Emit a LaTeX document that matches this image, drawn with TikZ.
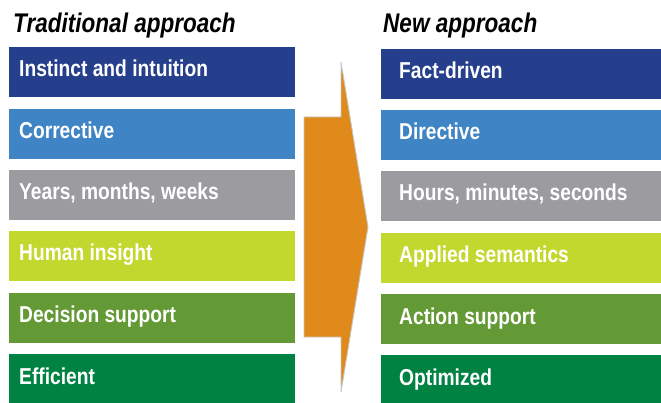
\documentclass[tikz,border=0pt]{standalone}
\usepackage{fontspec}
\setmainfont{Liberation Sans}[FakeStretch=0.835]
\definecolor{cA}{HTML}{253F8D}
\definecolor{cB}{HTML}{3F84C4}
\definecolor{cC}{HTML}{9C9CA0}
\definecolor{cD}{HTML}{C3D82E}
\definecolor{cE}{HTML}{639A35}
\definecolor{cF}{HTML}{008342}
\definecolor{cOr}{HTML}{DF8A1B}
\begin{document}
\begin{tikzpicture}[x=1pt,y=-1pt,
  box/.style={anchor=north west,minimum width=286pt,minimum height=50pt,inner sep=0pt,draw=none},
  rbox/.style={anchor=north west,minimum width=281pt,minimum height=50pt,inner sep=0pt,draw=none},
  lbl/.style={anchor=base west,inner sep=0pt,text=white,font=\fontsize{23}{25}\selectfont\bfseries},
  ttl/.style={anchor=base west,inner sep=0pt,text=black,font=\fontsize{27}{29}\selectfont\bfseries\itshape},
  bigarrow/.style={fill=cOr,draw=gray!45,line width=0.9pt,line join=miter}]
\useasboundingbox (0,0) rectangle (661,403);
\node[ttl] (t1) at (13,33) {Traditional approach};
\node[ttl] (t2) at (383,33) {New approach};
% left column
\node[box,fill=cA] (l1) at (9,47) {};
\node[box,fill=cB] (l2) at (9,109) {};
\node[box,fill=cC] (l3) at (9,170) {};
\node[box,fill=cD] (l4) at (9,231) {};
\node[box,fill=cE] (l5) at (9,293) {};
\node[box,fill=cF] (l6) at (9,354) {};
\node[lbl] (lt1) at (19,77) {Instinct and intuition};
\node[lbl] (lt2) at (19,139) {Corrective};
\node[lbl] (lt3) at (19,200) {Years, months, weeks};
\node[lbl] (lt4) at (19,261) {Human insight};
\node[lbl] (lt5) at (19,323) {Decision support};
\node[lbl] (lt6) at (19,384) {Efficient};
% right column
\node[rbox,fill=cA] (r1) at (381,49) {};
\node[rbox,fill=cB] (r2) at (381,110) {};
\node[rbox,fill=cC] (r3) at (381,171) {};
\node[rbox,fill=cD] (r4) at (381,233) {};
\node[rbox,fill=cE] (r5) at (381,294) {};
\node[rbox,fill=cF] (r6) at (381,355) {};
\node[lbl] (rt1) at (399,79) {Fact-driven};
\node[lbl] (rt2) at (399,140) {Directive};
\node[lbl] (rt3) at (399,201) {Hours, minutes, seconds};
\node[lbl] (rt4) at (399,263) {Applied semantics};
\node[lbl] (rt5) at (399,324) {Action support};
\node[lbl] (rt6) at (399,385) {Optimized};
% arrow
\draw[bigarrow] (304,117) -- (341,117) -- (341,62) -- (368,227) -- (341,392) -- (341,337) -- (304,337) -- cycle;
\end{tikzpicture}
\end{document}
